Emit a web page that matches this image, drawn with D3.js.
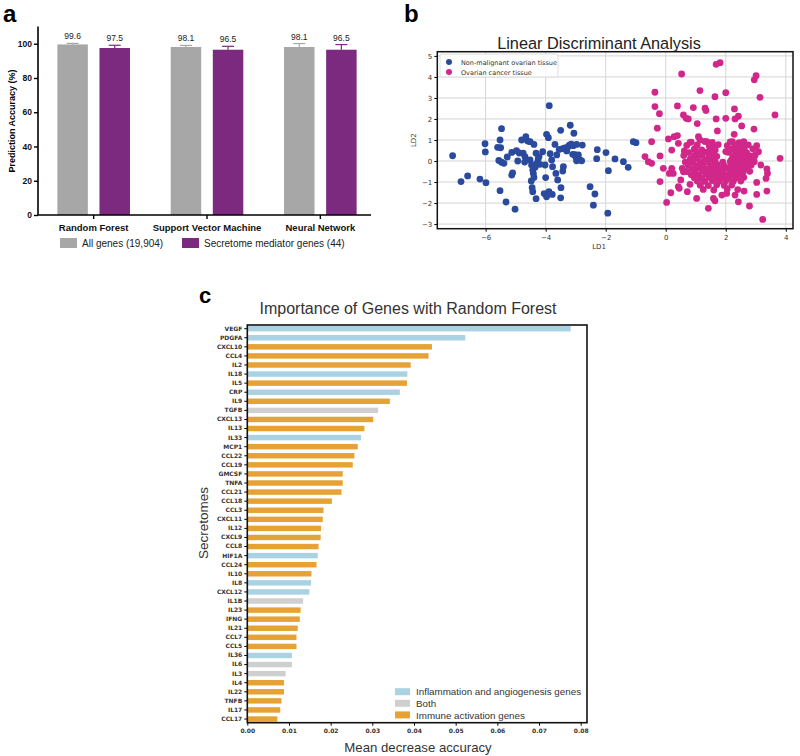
<!DOCTYPE html>
<html><head><meta charset="utf-8">
<script src="https://cdn.jsdelivr.net/npm/d3@7"></script>
<style>body{margin:0;background:#fff}svg{display:block}</style>
</head><body>
<svg id="chart" width="800" height="756"></svg>
<script>
// ---------- Panel a data ----------
const modelNames = ["Random Forest", "Support Vector Machine", "Neural Network"];
const geneSets = ["All genes (19,904)", "Secretome mediator genes (44)"];
const accAll = [99.6, 98.1, 98.1];
const accSecretome = [97.5, 96.5, 96.5];
const errAll = [0.6, 0.9, 2.0];
const errSecretome = [1.6, 2.0, 3.0];
const accTicks = [0, 20, 40, 60, 80, 100];

// ---------- Panel b data ----------
const ldaClasses = ["Non-malignant ovarian tissue", "Ovarian cancer tissue"];
const ldaNormal = [
[-7.10,0.25],[-6.82,-0.98],[-6.60,-0.71],[-6.19,-0.86],[-5.99,-1.03],[-6.02,0.82],[-6.01,0.43],
[-5.52,-1.41],[-5.32,-1.95],[-5.02,-2.29],[-5.47,1.54],[-5.52,1.00],[-5.50,0.63],[-5.56,0.03],
[-5.47,-0.06],[-5.39,-0.11],[-5.28,0.19],[-5.13,0.41],[-5.13,-0.67],[-5.10,-0.56],[-4.97,0.49],
[-4.93,0.00],[-4.80,1.00],[-4.75,0.37],[-4.69,0.21],[-4.66,1.16],[-4.52,0.92],[-4.52,0.05],
[-4.47,-0.19],[-4.43,-0.43],[-4.41,-0.59],[-4.39,-0.78],[-4.39,0.79],[-4.32,0.37],[-4.30,-0.11],
[-4.22,0.21],[-4.19,-0.16],[-4.45,-1.27],[-4.43,-1.46],[-4.32,-1.79],[-4.10,0.44],[-4.02,-0.19],
[-4.00,-0.79],[-3.97,1.27],[-3.91,1.11],[-3.88,2.63],[-3.89,-1.46],[-3.97,-1.70],[-3.78,-1.59],
[-3.77,-0.27],[-3.80,0.05],[-3.69,0.79],[-3.66,-0.59],[-3.60,-0.90],[-3.63,0.29],[-3.50,1.46],
[-3.49,-1.27],[-3.50,-1.75],[-3.43,0.59],[-3.41,-0.27],[-3.43,-0.48],[-3.30,0.48],[-3.21,0.76],
[-3.10,0.32],[-3.08,0.73],[-3.06,1.32],[-3.18,1.70],[-2.99,0.17],[-2.97,0.79],[-2.91,0.29],
[-2.86,0.05],[-2.78,0.76],[-2.80,0.01],[-2.97,0.01],[-2.52,-1.22],[-2.36,-1.57],[-2.41,-2.10],
[-2.30,0.11],[-2.28,0.54],[-1.99,0.40],[-1.91,-0.46],[-1.93,-2.48],[-1.69,0.10],[-1.41,-0.03],
[-1.25,-0.30],[-1.08,0.92],[-0.99,0.87],[-3.36,0.62],[-3.25,0.68],[-3.15,0.80],[-4.60,0.95],
[-4.25,0.10],[-3.85,0.35],[-4.70,-0.05],[-4.35,-0.30],[-3.55,0.55],[-5.60,0.65],[-4.05,-1.55],
[-3.02,0.30],[-4.48,-0.95],[-4.88,0.38]
];
const ldaCancer = [
[1.68,4.60],[1.81,4.68],[0.53,4.14],[3.01,4.06],[2.95,3.86],[-0.36,3.27],[1.14,3.35],[1.64,3.06],
[2.00,3.25],[3.14,3.03],[-0.36,2.59],[-0.21,2.25],[0.39,2.62],[0.92,2.54],[1.31,2.51],[1.34,2.40],
[2.29,2.48],[0.59,2.19],[0.68,2.03],[0.75,2.00],[1.05,1.78],[1.68,2.00],[2.00,2.03],[2.42,2.13],
[2.31,2.00],[2.53,1.67],[2.94,1.52],[3.64,2.19],[-0.28,1.56],[-0.47,0.92],[-0.69,0.21],[-0.58,-0.03],
[-0.47,-0.11],[-0.19,0.24],[0.09,1.05],[0.28,1.16],[0.39,1.21],[0.42,0.84],[0.20,0.52],[0.81,0.89],
[1.09,1.16],[1.14,1.00],[1.37,0.92],[1.72,1.43],[2.28,1.27],[2.22,0.92],[2.42,0.84],[2.48,0.60],
[3.03,0.73],[3.09,0.44],[2.98,0.29],[2.81,0.24],[3.81,0.13],[3.17,-0.19],[3.37,-0.38],[3.39,-0.59],
[3.34,-0.83],[3.03,-1.02],[3.37,-1.43],[3.03,-1.59],[3.23,-2.78],[2.79,-2.14],[2.42,-1.94],[2.31,-1.62],
[2.61,-1.43],[2.03,-1.54],[1.87,-1.62],[1.59,-1.78],[1.64,-1.89],[1.42,-2.25],[1.03,-1.78],[0.72,-1.46],
[0.42,-1.22],[0.17,-1.51],[-0.19,-0.98],[0.03,-1.97],[0.12,-0.59],[-0.08,-0.35],[0.20,-0.35],[0.25,-0.59],
[0.50,-0.90],[0.59,-0.51],[0.45,-1.30],[0.81,-1.11],[1.52,0.42],[0.98,0.60],
[0.85,0.90],[1.30,0.93],[1.55,0.88],[2.15,0.91],[2.45,0.87],[2.60,0.92],
[0.70,0.74],[1.05,0.77],[1.45,0.72],[1.75,0.78],[2.05,0.73],[2.30,0.76],[2.55,0.71],[2.75,0.77],
[0.95,0.56],[1.20,0.53],[1.50,0.58],[1.65,0.52],[2.20,0.57],[2.40,0.54],[2.62,0.55],[2.90,0.58],
[0.78,0.40],[1.10,0.38],[1.35,0.42],[1.58,0.37],[2.10,0.41],[2.35,0.39],[2.50,0.43],[2.70,0.38],
[0.60,0.26],[0.95,0.23],[1.20,0.27],[1.45,0.24],[1.70,0.22],[2.25,0.26],[2.45,0.23],[2.65,0.25],[2.95,0.21],
[0.82,0.10],[1.05,0.12],[1.30,0.08],[1.55,0.11],[2.20,0.09],[2.40,0.12],[2.55,0.08],[2.78,0.10],
[0.65,-0.05],[0.90,-0.03],[1.15,-0.07],[1.40,-0.04],[1.65,-0.06],[1.90,-0.05],[2.15,-0.03],[2.35,-0.06],[2.50,-0.04],[2.72,-0.07],[2.95,-0.03],
[0.75,-0.20],[1.00,-0.22],[1.25,-0.18],[1.50,-0.21],[1.72,-0.19],[1.95,-0.23],[2.20,-0.20],[2.42,-0.18],[2.60,-0.22],[2.85,-0.19],
[0.55,-0.35],[0.88,-0.36],[1.12,-0.33],[1.38,-0.37],[1.60,-0.34],[1.85,-0.36],[2.08,-0.33],[2.30,-0.37],[2.50,-0.35],[2.70,-0.34],
[0.70,-0.50],[0.98,-0.52],[1.22,-0.48],[1.48,-0.51],[1.70,-0.49],[1.92,-0.53],[2.15,-0.50],[2.38,-0.48],[2.58,-0.52],[2.80,-0.49],
[0.85,-0.65],[1.10,-0.67],[1.35,-0.63],[1.60,-0.66],[1.82,-0.64],[2.05,-0.68],[2.28,-0.65],[2.48,-0.63],
[0.95,-0.80],[1.20,-0.82],[1.45,-0.78],[1.68,-0.81],[1.90,-0.79],[2.12,-0.83],[2.35,-0.80],[2.60,-0.78],
[1.05,-0.95],[1.30,-0.97],[1.55,-0.93],[1.78,-0.96],[2.00,-0.94],[2.25,-0.98],[2.50,-0.95],
[1.15,-1.15],[1.42,-1.17],[1.70,-1.13],[1.95,-1.16],[2.20,-1.14],
[1.25,-1.35],[1.60,-1.38],[2.05,-1.33],[2.40,-1.36],
[1.00,0.30],[1.62,0.65],[2.00,0.45],[2.68,0.05],[1.85,-0.45],[2.25,-0.10],[1.40,-0.58],[0.62,0.48]
];
const ldaXTicks = [-6, -4, -2, 0, 2, 4];
const ldaYTicks = [-3, -2, -1, 0, 1, 2, 3, 4, 5];

// ---------- Panel c data ----------
const genes = ["VEGF","PDGFA","CXCL10","CCL4","IL2","IL18","IL5","CRP","IL9","TGFB","CXCL13","IL13","IL33","MCP1","CCL22","CCL19","GMCSF","TNFA","CCL21","CCL18","CCL3","CXCL11","IL12","CXCL9","CCL8","HIF1A","CCL24","IL10","IL8","CXCL12","IL1B","IL23","IFNG","IL21","CCL7","CCL5","IL36","IL6","IL3","IL4","IL22","TNFB","IL17","CCL17"];
const importance = [0.0776,0.0523,0.0443,0.0435,0.0392,0.0384,0.0383,0.0366,0.0342,0.0314,0.0302,0.0281,0.0273,0.0265,0.0257,0.0253,0.0229,0.0229,0.0226,0.0203,0.0183,0.0181,0.0177,0.0176,0.0171,0.0169,0.0166,0.0154,0.0153,0.0149,0.0134,0.0128,0.0126,0.0121,0.0118,0.0118,0.0107,0.0107,0.0092,0.0088,0.0088,0.0082,0.0079,0.0072];
const geneGroup = ["I","I","A","A","A","I","A","I","A","B","A","A","I","A","A","A","A","A","A","A","A","A","A","A","A","I","A","A","I","I","B","A","A","A","A","A","I","B","B","A","A","A","A","A"];
const groupKeys = ["I","B","A"];
const groupLabels = ["Inflammation and angiogenesis genes","Both","Immune activation genes"];
const impTicks = [0,0.01,0.02,0.03,0.04,0.05,0.06,0.07,0.08];

const svg = d3.select("#chart");
const SANS = "'Liberation Sans', Arial, sans-serif";
const DV = "'DejaVu Sans', sans-serif";

// ======== Panel a ========
(function(){
  const g = svg.append("g");
  g.append("text").attr("x",3).attr("y",22).attr("font-family",SANS).attr("font-weight","bold").attr("font-size",24).text("a");
  const y = d3.scaleLinear().domain([0,110]).range([215,26.6]);
  const x = d3.scaleBand().domain(modelNames).range([37,377]);
  const sub = d3.scaleBand().domain(geneSets).range([-36.3,36.3]).paddingInner(0.276);
  const colors = d3.scaleOrdinal().domain(geneSets).range(["#a7a7a7","#7b2a7f"]);
  const rows = [];
  modelNames.forEach((m,i)=>{
    rows.push({m, s:geneSets[0], v:accAll[i], e:errAll[i]});
    rows.push({m, s:geneSets[1], v:accSecretome[i], e:errSecretome[i]});
  });
  const cx = d => x(d.m)+x.bandwidth()/2 + sub(d.s);
  rows.forEach(d=>{
    const xc = cx(d)+sub.bandwidth()/2;
    const col = d.s===geneSets[0] ? "#a7a7a7" : "#7b2a7f";
    g.append("line").attr("x1",xc).attr("x2",xc).attr("y1",y(d.v)).attr("y2",y(d.v+d.e)).attr("stroke",col).attr("stroke-width",1.2);
    g.append("line").attr("x1",xc-6).attr("x2",xc+6).attr("y1",y(d.v+d.e)).attr("y2",y(d.v+d.e)).attr("stroke",col).attr("stroke-width",1.2);
    g.append("text").attr("x",xc).attr("y",y(d.v+d.e)-4).attr("text-anchor","middle").attr("font-family",SANS).attr("font-size",8.5).attr("fill","#222").text(d.v.toFixed(1));
  });
  g.selectAll("rect.bar").data(rows).join("rect").attr("class","bar")
    .attr("x",d=>cx(d)).attr("width",sub.bandwidth())
    .attr("y",d=>y(d.v)).attr("height",d=>y(0)-y(d.v)).attr("fill",d=>colors(d.s));
  const ya = g.append("g").attr("transform","translate(38,0)").call(d3.axisLeft(y).tickValues(accTicks).tickSize(4).tickPadding(2));
  ya.select(".domain").attr("stroke-width",1.6).attr("d","M0,26.6V215");
  ya.selectAll(".tick line").attr("stroke-width",1.4);
  ya.selectAll("text").attr("font-family",SANS).attr("font-weight","bold").attr("font-size",8.5).attr("fill","#111");
  const xa = g.append("g").attr("transform","translate(0,215)").call(d3.axisBottom(x).tickSize(4).tickPadding(5));
  xa.select(".domain").attr("stroke-width",1.6).attr("d","M38,0H371");
  xa.selectAll(".tick line").attr("stroke-width",1.4);
  xa.selectAll("text").attr("font-family",SANS).attr("font-weight","bold").attr("font-size",9.5).attr("fill","#111");
  g.append("text").attr("transform","translate(15,121) rotate(-90)").attr("text-anchor","middle")
    .attr("font-family",SANS).attr("font-weight","bold").attr("font-size",9).text("Prediction Accuracy (%)");
  const leg = [[60,geneSets[0]],[182,geneSets[1]]];
  leg.forEach(([lx,s])=>{
    g.append("rect").attr("x",lx).attr("y",238).attr("width",17).attr("height",10).attr("fill",colors(s));
    g.append("text").attr("x",lx+22).attr("y",247).attr("font-family",SANS).attr("font-size",10).attr("fill","#222").text(s);
  });
})();

// ======== Panel b ========
(function(){
  const g = svg.append("g");
  g.append("text").attr("x",404).attr("y",22).attr("font-family",SANS).attr("font-weight","bold").attr("font-size",24).text("b");
  const L=437.3,R=793,T=51.7,B=228.7;
  const x = d3.scaleLinear().domain([-7.61,4.24]).range([L,R]);
  const y = d3.scaleLinear().domain([-3.22,5.2]).range([B,T]);
  g.append("text").attr("x",599).attr("y",48.5).attr("text-anchor","middle").attr("font-family",SANS).attr("font-size",16.3).attr("fill","#222").text("Linear Discriminant Analysis");
  g.selectAll("line.gx").data(ldaXTicks).join("line").attr("x1",d=>x(d)).attr("x2",d=>x(d)).attr("y1",T).attr("y2",B).attr("stroke","#d4d4d4").attr("stroke-width",1);
  g.selectAll("line.gy").data(ldaYTicks).join("line").attr("y1",d=>y(d)).attr("y2",d=>y(d)).attr("x1",L).attr("x2",R).attr("stroke","#d4d4d4").attr("stroke-width",1);
  const xa = g.append("g").attr("transform",`translate(0,${B})`).call(d3.axisBottom(x).tickValues(ldaXTicks).tickSize(3).tickPadding(3).tickFormat(d=>d<0?"\u2212"+(-d):d));
  xa.select(".domain").remove();
  xa.selectAll("text").attr("font-family",DV).attr("font-size",7).attr("fill","#333");
  const ya = g.append("g").attr("transform",`translate(${L},0)`).call(d3.axisLeft(y).tickValues(ldaYTicks).tickSize(3).tickPadding(2).tickFormat(d=>d<0?"\u2212"+(-d):d));
  ya.select(".domain").remove();
  ya.selectAll("text").attr("font-family",DV).attr("font-size",7).attr("fill","#333");
  g.append("text").attr("x",599).attr("y",249).attr("text-anchor","middle").attr("font-family",DV).attr("font-size",7).attr("fill","#333").text("LD1");
  g.append("text").attr("transform",`translate(416,${(T+B)/2}) rotate(-90)`).attr("text-anchor","middle").attr("font-family",DV).attr("font-size",7).attr("fill","#333").text("LD2");
  const ptsG = g.append("g");
  ptsG.selectAll("circle.n").data(ldaNormal).join("circle").attr("cx",d=>x(d[0])).attr("cy",d=>y(d[1])).attr("r",3.4).attr("fill","#2a4a9e");
  ptsG.selectAll("circle.c").data(ldaCancer).join("circle").attr("cx",d=>x(d[0])).attr("cy",d=>y(d[1])).attr("r",3.4).attr("fill","#d2278a");
  g.append("rect").attr("x",440).attr("y",54).attr("width",118).attr("height",23).attr("fill","#fff").attr("fill-opacity",0.85).attr("stroke","#ddd").attr("rx",2);
  [["#2a4a9e",ldaClasses[0],62],["#d2278a",ldaClasses[1],72]].forEach(([c,t,yy])=>{
    g.append("circle").attr("cx",449).attr("cy",yy).attr("r",3).attr("fill",c);
    g.append("text").attr("x",461).attr("y",yy+2.5).attr("font-family",DV).attr("font-size",6.5).attr("fill","#333").text(t);
  });
  g.append("rect").attr("x",L).attr("y",T).attr("width",R-L).attr("height",B-T).attr("fill","none").attr("stroke","#111").attr("stroke-width",1.5);
})();

// ======== Panel c ========
(function(){
  const g = svg.append("g");
  g.append("text").attr("x",199).attr("y",303).attr("font-family",SANS).attr("font-weight","bold").attr("font-size",22).text("c");
  const L=247.3,R=587,T=325,B=722.7;
  const x = d3.scaleLinear().domain([0,0.08]).range([L,580.7]);
  const y = d3.scaleBand().domain(genes).range([T+0.5,B-0.5]).paddingInner(0.4).paddingOuter(0.05);
  const col = d3.scaleOrdinal().domain(groupKeys).range(["#a9d2e3","#cfcfcf","#e6a235"]);
  g.append("text").attr("x",408).attr("y",314).attr("text-anchor","middle").attr("font-family",SANS).attr("font-size",16).attr("fill","#333").text("Importance of Genes with Random Forest");
  g.selectAll("rect.bar").data(genes).join("rect")
    .attr("x",x(0)).attr("y",d=>y(d)).attr("height",y.bandwidth())
    .attr("width",(d,i)=>x(importance[i])-x(0)).attr("fill",(d,i)=>col(geneGroup[i]));
  const ya = g.append("g").attr("transform",`translate(${L},0)`).call(d3.axisLeft(y).tickSize(3).tickPadding(2));
  ya.select(".domain").remove();
  ya.selectAll("text").attr("font-family",DV).attr("font-weight","bold").attr("font-size",6).attr("fill","#333");
  const xa = g.append("g").attr("transform",`translate(0,${B})`).call(d3.axisBottom(x).tickValues(impTicks).tickSize(3).tickPadding(3).tickFormat(d3.format(".2f")));
  xa.select(".domain").remove();
  xa.selectAll("text").attr("font-family",DV).attr("font-weight","bold").attr("font-size",6).attr("fill","#333");
  g.append("rect").attr("x",L).attr("y",T).attr("width",R-L).attr("height",B-T).attr("fill","none").attr("stroke","#111").attr("stroke-width",1.6);
  g.append("text").attr("x",418).attr("y",752).attr("text-anchor","middle").attr("font-family",SANS).attr("font-size",13.2).attr("fill","#333").text("Mean decrease accuracy");
  g.append("text").attr("transform","translate(208,523) rotate(-90)").attr("text-anchor","middle").attr("font-family",SANS).attr("font-size",13.5).attr("fill","#333").text("Secretomes");
  groupKeys.forEach((k,i)=>{
    const yy = 691.7 + i*11.6;
    g.append("rect").attr("x",395).attr("y",yy-3.5).attr("width",15).attr("height",7).attr("fill",col(k));
    g.append("text").attr("x",416).attr("y",yy+3.6).attr("font-family",SANS).attr("font-size",9.8).attr("fill","#333").text(groupLabels[i]);
  });
})();
</script>
</body></html>
